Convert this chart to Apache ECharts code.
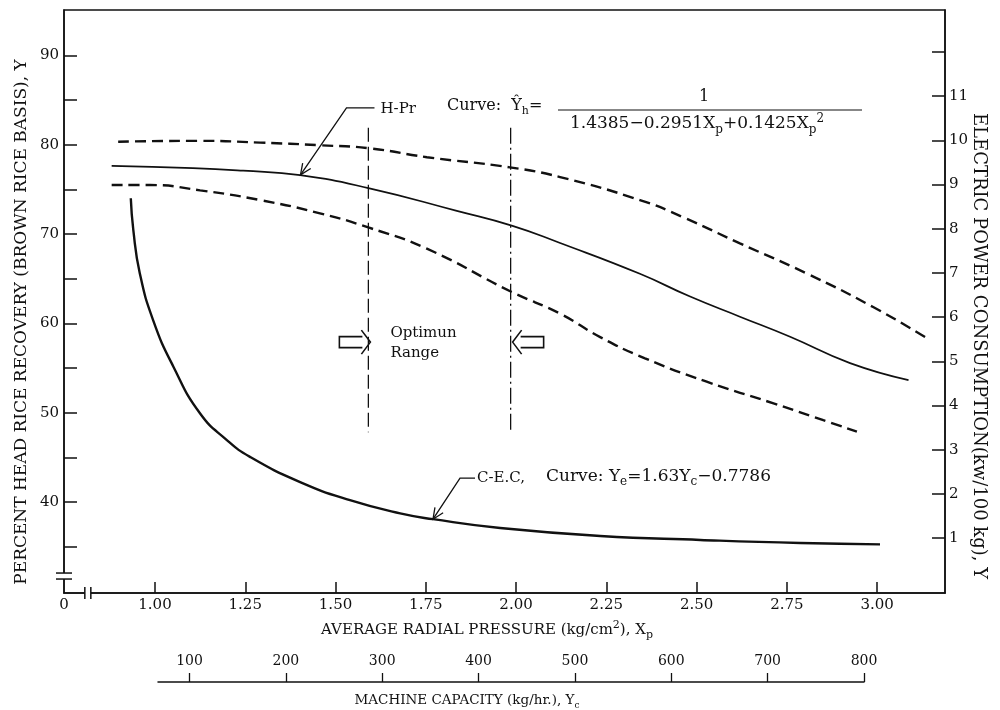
<!DOCTYPE html>
<html>
<head>
<meta charset="utf-8">
<script src="https://cdn.jsdelivr.net/npm/echarts@6/dist/echarts.min.js"></script>
<style>
  html, body { margin: 0; padding: 0; background: #fff; }
  #chart { width: 1000px; height: 710px; }
</style>
</head>
<body>
<div id="chart"></div>
<script>
// ---- axis ticks and labels ----
const pressureTicks = [1.00, 1.25, 1.50, 1.75, 2.00, 2.25, 2.50, 2.75, 3.00];
const recoveryTicks = [35, 40, 45, 50, 55, 60, 65, 70, 75, 80, 85, 90];
const recoveryLabels = [40, 50, 60, 70, 80, 90];
const powerTicks = [1, 2, 3, 4, 5, 6, 7, 8, 9, 10, 11, 12];
const powerLabels = [1, 2, 3, 4, 5, 6, 7, 8, 9, 10, 11];
const capacityTicks = [100, 200, 300, 400, 500, 600, 700, 800];

// ---- H-Pr curve: head rice recovery (%) against radial pressure ----
const hprPressure = [0.880, 1.105, 1.244, 1.402, 1.591, 1.836, 1.988, 2.122, 2.343, 2.482, 2.620, 2.759, 2.925, 3.087];
const hprRecovery = [77.65, 77.40, 77.10, 76.60, 75.15, 72.60, 70.95, 69.00, 65.55, 63.00, 60.75, 58.50, 55.55, 53.65];

// ---- electric power consumption bands (kw/100 kg) ----
const upperPressure = [0.898, 1.125, 1.291, 1.457, 1.596, 1.753, 1.983, 2.122, 2.343, 2.463, 2.620, 2.805, 2.989, 3.133];
const upperPower    = [9.97, 9.99, 9.95, 9.89, 9.82, 9.62, 9.39, 9.17, 8.65, 8.26, 7.67, 6.99, 6.23, 5.55];
const lowerPressure = [0.880, 0.986, 1.125, 1.291, 1.457, 1.591, 1.753, 1.988, 2.122, 2.233, 2.357, 2.528, 2.713, 2.851, 2.944];
const lowerPower    = [8.99, 8.99, 8.87, 8.65, 8.35, 8.03, 7.55, 6.57, 6.08, 5.55, 5.07, 4.54, 4.05, 3.67, 3.41];

// ---- C-E.C. curve ----
const cecPressure = [0.933, 0.940, 0.958, 0.995, 1.051, 1.125, 1.199, 1.263, 1.402, 1.540, 1.679, 1.770, 1.956, 2.233, 2.510, 2.787, 3.008];
const cecPower    = [8.69, 7.97, 6.99, 5.93, 4.88, 3.82, 3.22, 2.84, 2.27, 1.86, 1.56, 1.43, 1.23, 1.05, 0.96, 0.89, 0.86];

// ---- optimum pressure range ----
const optimumPressure = [1.591, 1.985];
const optimumSpan = [81.9, 47.8];
const optimumArrowLevel = 57.9;

const SERIF = '"DejaVu Serif", "Liberation Serif", serif';
const ink = '#111';

const pairs = (xs, ys) => xs.map((x, i) => [x, ys[i]]);

const chart = echarts.init(document.getElementById('chart'), null, { renderer: 'canvas' });

const labelFont = { fontFamily: SERIF, fontSize: 15, color: ink };

const option = {
  animation: false,
  backgroundColor: '#fff',
  grid: [
    { left: 64, right: 55, top: 10, bottom: 117, show: true, borderColor: ink, borderWidth: 1.5, backgroundColor: 'transparent' },
    { left: 158, width: 706, top: 682, height: 1 }
  ],
  xAxis: [
    {
      type: 'value', gridIndex: 0, min: 0.748, max: 3.188,
      axisLine: { show: true, onZero: false, lineStyle: { color: ink, width: 1.5 } },
      axisTick: { show: true, inside: true, length: 11, customValues: pressureTicks, lineStyle: { color: ink, width: 1.5 } },
      axisLabel: Object.assign({
        customValues: [0.748].concat(pressureTicks),
        formatter: v => (v < 0.9 ? '0' : v.toFixed(2)),
        margin: 5
      }, labelFont),
      splitLine: { show: false }
    },
    {
      type: 'value', gridIndex: 1, position: 'top', min: 67.3, max: 800,
      axisLine: { show: true, onZero: false, lineStyle: { color: ink, width: 1.5 } },
      axisTick: { show: true, inside: false, length: 9, customValues: capacityTicks, lineStyle: { color: ink, width: 1.3 } },
      axisLabel: Object.assign({ customValues: capacityTicks, margin: 14 }, labelFont, { fontSize: 14 }),
      splitLine: { show: false }
    }
  ],
  yAxis: [
    {
      type: 'value', gridIndex: 0, position: 'left', min: 29.8, max: 95.1,
      axisLine: { show: true, onZero: false, lineStyle: { color: ink, width: 1.5 } },
      axisTick: { show: true, inside: true, length: 13, customValues: recoveryTicks, lineStyle: { color: ink, width: 1.5 } },
      axisLabel: Object.assign({ customValues: recoveryLabels, margin: 5 }, labelFont),
      splitLine: { show: false }
    },
    {
      type: 'value', gridIndex: 0, position: 'right', min: -0.24, max: 12.95,
      axisLine: { show: true, onZero: false, lineStyle: { color: ink, width: 1.5 } },
      axisTick: { show: true, inside: true, length: 13, customValues: powerTicks, lineStyle: { color: ink, width: 1.5 } },
      axisLabel: Object.assign({ customValues: powerLabels, margin: 4 }, labelFont),
      splitLine: { show: false }
    },
    { type: 'value', gridIndex: 1, show: false }
  ],
  series: [
    {
      name: 'H-Pr', type: 'line', xAxisIndex: 0, yAxisIndex: 0,
      data: pairs(hprPressure, hprRecovery), smooth: 0.5, symbol: 'none',
      lineStyle: { color: ink, width: 1.7 }
    },
    {
      name: 'Power upper', type: 'line', xAxisIndex: 0, yAxisIndex: 1,
      data: pairs(upperPressure, upperPower), smooth: 0.5, symbol: 'none',
      lineStyle: { color: ink, width: 2.4, type: [11, 6] }
    },
    {
      name: 'Power lower', type: 'line', xAxisIndex: 0, yAxisIndex: 1,
      data: pairs(lowerPressure, lowerPower), smooth: 0.5, symbol: 'none',
      lineStyle: { color: ink, width: 2.4, type: [11, 6] }
    },
    {
      name: 'C-E.C.', type: 'line', xAxisIndex: 0, yAxisIndex: 1,
      data: pairs(cecPressure, cecPower), smooth: 0.5, symbol: 'none',
      lineStyle: { color: ink, width: 2.4 }
    },
    {
      name: 'Optimum low', type: 'line', xAxisIndex: 0, yAxisIndex: 0,
      data: optimumSpan.map(v => [optimumPressure[0], v]), symbol: 'none',
      lineStyle: { color: ink, width: 1.3, type: [14, 5] }
    },
    {
      name: 'Optimum high', type: 'line', xAxisIndex: 0, yAxisIndex: 0,
      data: optimumSpan.map(v => [optimumPressure[1], v]), symbol: 'none',
      lineStyle: { color: ink, width: 1.3, type: [16, 4, 2, 4] }
    }
  ]
};

chart.setOption(option);

// ---- annotations placed from the chart's own scales ----
const P = (s, x, y) => chart.convertToPixel({ seriesIndex: s }, [x, y]);

function rich(size) {
  const sub = Math.round(size * 0.7);
  return {
    t: { fontSize: size, fontFamily: SERIF, fill: ink, lineHeight: size + 6 },
    s: { fontSize: sub, fontFamily: SERIF, fill: ink, lineHeight: sub + 2, verticalAlign: 'bottom' },
    u: { fontSize: sub, fontFamily: SERIF, fill: ink, lineHeight: sub + 2, verticalAlign: 'top' }
  };
}
function text(x, y, str, size, align, rot) {
  return {
    type: 'text', x: x, y: y, rotation: rot || 0, z: 100,
    style: { text: str, rich: rich(size), align: align || 'left', verticalAlign: 'middle', fill: ink, fontFamily: SERIF, fontSize: size }
  };
}
function poly(pts, w) {
  return { type: 'polyline', z: 100, shape: { points: pts }, style: { stroke: ink, lineWidth: w || 1.3, fill: null } };
}
function head(tip, from, len, ang) {
  const dx = from[0] - tip[0], dy = from[1] - tip[1];
  const d = Math.hypot(dx, dy), ux = dx / d, uy = dy / d;
  const r = a => [tip[0] + len * (ux * Math.cos(a) - uy * Math.sin(a)), tip[1] + len * (ux * Math.sin(a) + uy * Math.cos(a))];
  return [r(ang), tip, r(-ang)];
}

const g = [];

// axis breaks
const xb = P(0, 0.814, 29.8);
g.push({ type: 'rect', z: 99, shape: { x: xb[0] - 3, y: xb[1] - 6, width: 6, height: 12 }, style: { fill: '#fff' } });
g.push(poly([[xb[0] - 3, xb[1] - 6], [xb[0] - 3, xb[1] + 6]], 1.5));
g.push(poly([[xb[0] + 3, xb[1] - 6], [xb[0] + 3, xb[1] + 6]], 1.5));
const yb = P(0, 0.748, 31.7);
g.push({ type: 'rect', z: 99, shape: { x: yb[0] - 7, y: yb[1] - 3, width: 14, height: 6 }, style: { fill: '#fff' } });
g.push(poly([[yb[0] - 8, yb[1] - 3], [yb[0] + 8, yb[1] - 3]], 1.5));
g.push(poly([[yb[0] - 8, yb[1] + 3], [yb[0] + 8, yb[1] + 3]], 1.5));

// H-Pr leader and formula
const hTip = P(0, 1.403, 76.64);
const hElbow = [hTip[0] + 46, hTip[1] - 67];
g.push(poly([hTip, hElbow, [hElbow[0] + 28, hElbow[1]]], 1.3));
g.push(poly(head(hTip, hElbow, 12, 0.42), 1.3));
g.push(text(hElbow[0] + 34, hElbow[1] + 1, '{t|H-Pr}', 15));
g.push(text(447, 106, '{t|Curve:  Ŷ}{s|h}{t|=}', 16));
g.push(text(704, 97, '{t|1}', 16, 'center'));
g.push(poly([[558, 110], [862, 110]], 1.2));
g.push(text(697, 124, '{t|1.4385−0.2951X}{s|p}{t|+0.1425X}{s|p}{u|2}', 17, 'center'));

// C-E.C. leader and formula
const cTip = P(3, 1.770, 1.43);
const cElbow = [cTip[0] + 27, cTip[1] - 41];
g.push(poly([cTip, cElbow, [cElbow[0] + 15, cElbow[1]]], 1.3));
g.push(poly(head(cTip, cElbow, 12, 0.42), 1.3));
g.push(text(cElbow[0] + 17, cElbow[1], '{t|C-E.C,}', 15));
g.push(text(cElbow[0] + 86, cElbow[1] - 2, '{t|Curve: Y}{s|e}{t|=1.63Y}{s|c}{t|−0.7786}', 17));

// optimum range arrows
const oL = P(4, optimumPressure[0], optimumArrowLevel);
const lt = oL[0] + 2, ly = oL[1];
g.push(poly([[lt - 8, ly - 5.5], [lt - 31, ly - 5.5], [lt - 31, ly + 5.5], [lt - 8, ly + 5.5]], 1.6));
g.push(poly([[lt - 9, ly - 12], [lt, ly], [lt - 9, ly + 12]], 1.6));
const oR = P(5, optimumPressure[1], optimumArrowLevel);
const rt = oR[0] + 2, ry = oR[1];
g.push(poly([[rt + 8, ry - 5.5], [rt + 31, ry - 5.5], [rt + 31, ry + 5.5], [rt + 8, ry + 5.5]], 1.6));
g.push(poly([[rt + 9, ry - 12], [rt, ry], [rt + 9, ry + 12]], 1.6));
g.push(text(lt + 20, ly - 9, '{t|Optimun}', 15));
g.push(text(lt + 20, ly + 11, '{t|Range}', 15));

// axis titles
g.push(text(22, 322, '{t|PERCENT HEAD RICE RECOVERY (BROWN RICE BASIS), Y}', 17, 'center', Math.PI / 2));
g.push(text(979, 346, '{t|ELECTRIC POWER CONSUMPTION(kw/100 kg), Y}', 18, 'center', -Math.PI / 2));
g.push(text(487, 630, '{t|AVERAGE RADIAL PRESSURE (kg/cm}{u|2}{t|), X}{s|p}', 15, 'center'));
g.push(text(467, 700, '{t|MACHINE CAPACITY (kg/hr.), Y}{s|c}', 13.5, 'center'));

chart.setOption({ graphic: { elements: g } });
</script>
</body>
</html>
